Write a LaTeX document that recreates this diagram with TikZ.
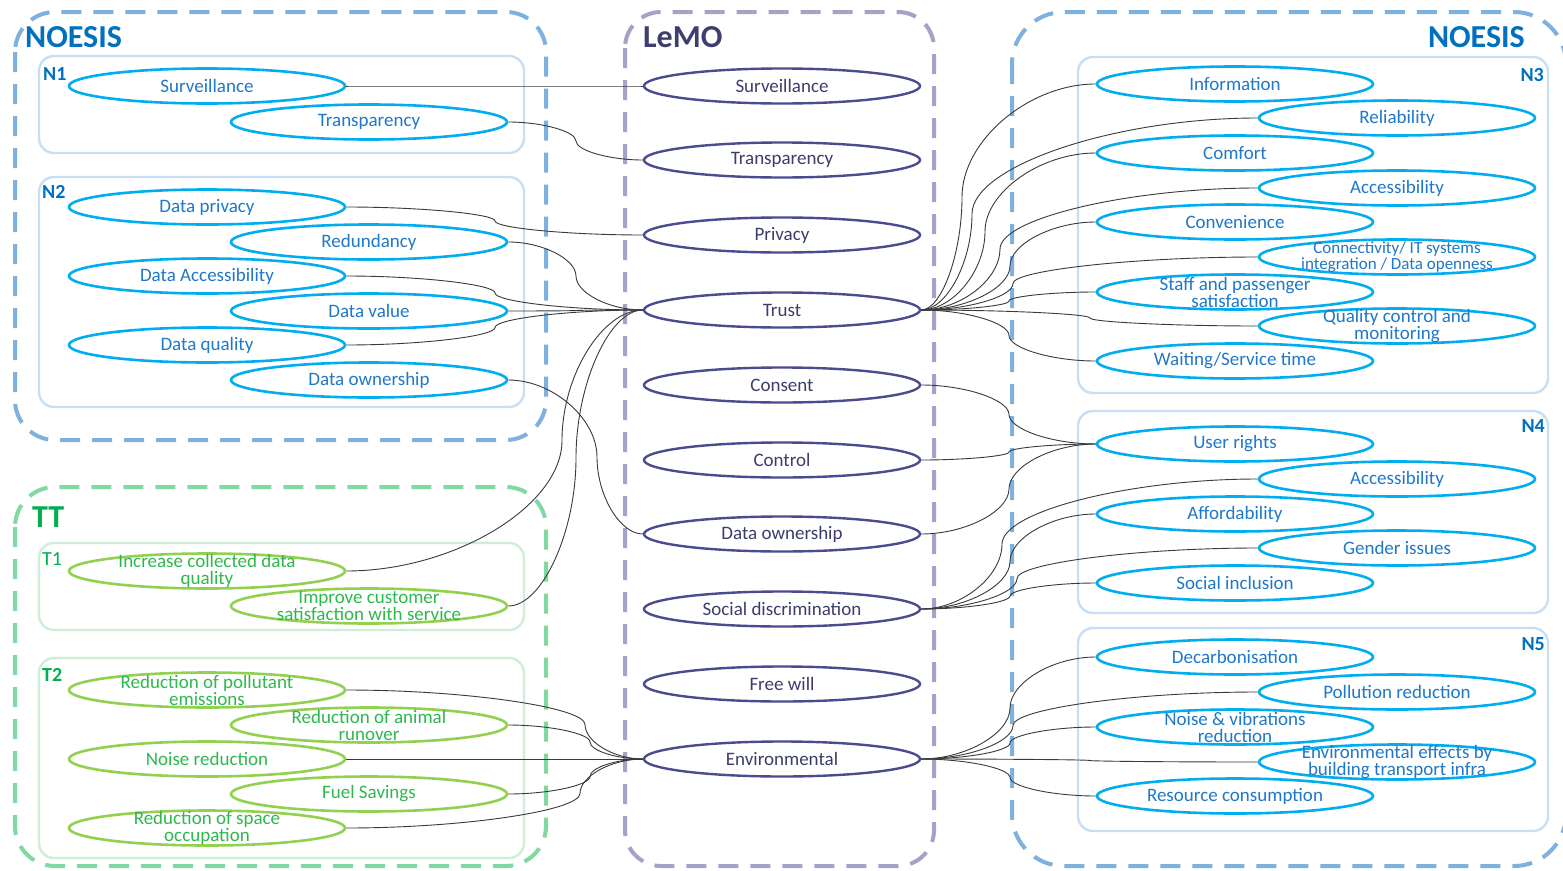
\documentclass[tikz,border=0pt]{standalone}
\usepackage{fontspec}
\setmainfont{Carlito}
\usetikzlibrary{shapes.geometric,calc}
\definecolor{nTitle}{HTML}{0070C0}
\definecolor{nDash}{HTML}{7EB1DD}
\definecolor{nBox}{HTML}{C8DFF3}
\definecolor{nEll}{HTML}{00AEEF}
\definecolor{nText}{HTML}{1F78C8}
\definecolor{mTitle}{HTML}{3F3F6F}
\definecolor{mDash}{HTML}{A3A3C7}
\definecolor{mEll}{HTML}{4B4B90}
\definecolor{mText}{HTML}{3D3D6B}
\definecolor{tTitle}{HTML}{00B050}
\definecolor{tDash}{HTML}{80D9A3}
\definecolor{tBox}{HTML}{CBEFD7}
\definecolor{tEll}{HTML}{92D050}
\definecolor{tText}{HTML}{2EB84E}
\definecolor{connC}{HTML}{3A3A3A}
\newcommand\joinc[3]{\draw[conn] let \p1=(#1), \p2=(#2) in (\p1) .. controls ({0.5*\x1+0.5*#3pt},\y1) and (#3pt,{0.75*\y1+0.25*\y2}) .. (#3pt,{0.5*\y1+0.5*\y2}) .. controls (#3pt,{0.25*\y1+0.75*\y2}) and ({0.5*#3pt+0.5*\x2},\y2) .. (\p2);}
\tikzset{
  ell/.style={ellipse, minimum width=276pt, minimum height=35pt, inner sep=0pt},
  nell/.style={ell, draw=nEll, line width=2.6pt},
  mell/.style={ell, draw=mEll, line width=2.4pt},
  tell/.style={ell, draw=tEll, line width=2.6pt},
  etxt/.style={align=center, inner sep=0pt, font=\fontsize{19}{17}\selectfont},
  ntxt/.style={etxt, text=nText},
  mtxt/.style={etxt, text=mText},
  ttxt/.style={etxt, text=tText},
  conn/.style={draw=connC, line width=0.9pt},
  bigtitle/.style={inner sep=0pt, font=\fontsize{32}{32}\selectfont\bfseries},
  grplabel/.style={inner sep=0pt, font=\fontsize{20}{20}\selectfont\bfseries},
  ndash/.style={draw=nDash, line width=4pt, dash pattern=on 20pt off 12pt},
  mdash/.style={draw=mDash, line width=4pt, dash pattern=on 20pt off 12pt, rounded corners=36pt},
  tdash/.style={draw=tDash, line width=4pt, dash pattern=on 20pt off 12pt, rounded corners=40pt},
  nbox/.style={draw=nBox, line width=2.4pt, rounded corners=15pt},
  tbox/.style={draw=tBox, line width=2.4pt, rounded corners=15pt},
}
\begin{document}
\begin{tikzpicture}[x=1pt,y=-1pt]
\useasboundingbox (0,0) rectangle (1563,870);
\fill[white] (0,0) rectangle (1563,870);
% containers
\draw[ndash, rounded corners=40pt] (15,12) rectangle (546,440);
\draw[tdash] (15,487) rectangle (546,866);
\draw[mdash] (625,12) rectangle (934,866);
\draw[ndash, rounded corners=52pt] (1012,12) rectangle (1566,866);
\draw[nbox] (39,56) rectangle (524,153);
\draw[nbox] (39,177) rectangle (524,407);
\draw[tbox] (39,543) rectangle (524,630);
\draw[tbox] (39,658) rectangle (524,858);
\draw[nbox] (1078,57) rectangle (1548,393);
\draw[nbox] (1078,411) rectangle (1548,613);
\draw[nbox] (1078,628) rectangle (1548,831);
% titles
\node[bigtitle, text=nTitle, anchor=west] (tnl) at (25,37) {NOESIS};
\node[bigtitle, text=mTitle, anchor=west] (tm) at (643,37) {LeMO};
\node[bigtitle, text=tTitle, anchor=west] (tt) at (32,517) {TT};
\node[bigtitle, text=nTitle, anchor=east] (tnr) at (1525,37) {NOESIS};
\node[grplabel, text=nTitle, anchor=west] (gn1) at (43,74) {N1};
\node[grplabel, text=nTitle, anchor=west] (gn2) at (42,192) {N2};
\node[grplabel, text=tTitle, anchor=west, font=\fontsize{20}{20}\selectfont] (gt1) at (42,559) {T1};
\node[grplabel, text=tTitle, anchor=west] (gt2) at (42,675) {T2};
\node[grplabel, text=nTitle, anchor=east] (gn3) at (1544,75) {N3};
\node[grplabel, text=nTitle, anchor=east] (gn4) at (1545,426) {N4};
\node[grplabel, text=nTitle, anchor=east] (gn5) at (1545,644) {N5};
% left NOESIS
\node[nell, label={[ntxt]center:Surveillance}] (ls1) at (207,86) {};
\node[nell, label={[ntxt]center:Transparency}] (ls2) at (369,122) {};
\node[nell, label={[ntxt]center:Data privacy}] (ln1) at (207,207) {};
\node[nell, label={[ntxt]center:Redundancy}] (ln2) at (369,242) {};
\node[nell, label={[ntxt]center:Data Accessibility}] (ln3) at (207,276) {};
\node[nell, label={[ntxt]center:Data value}] (ln4) at (369,311) {};
\node[nell, label={[ntxt]center:Data quality}] (ln5) at (207,345) {};
\node[nell, label={[ntxt]center:Data ownership}] (ln6) at (369,380) {};
% TT
\node[tell, label={[ttxt]center:Increase collected data\\quality}] (lt1) at (207,571) {};
\node[tell, label={[ttxt]center:Improve customer\\satisfaction with service}] (lt2) at (369,606) {};
\node[tell, label={[ttxt]center:Reduction of pollutant\\emissions}] (lt3) at (207,690) {};
\node[tell, label={[ttxt]center:Reduction of animal\\runover}] (lt4) at (369,725) {};
\node[tell, label={[ttxt]center:Noise reduction}] (lt5) at (207,759) {};
\node[tell, label={[ttxt]center:Fuel Savings}] (lt6) at (369,794) {};
\node[tell, label={[ttxt]center:Reduction of space\\occupation}] (lt7) at (207,828) {};
% LeMO
\node[mell, label={[mtxt]center:Surveillance}] (ms1) at (782,86) {};
\node[mell, label={[mtxt]center:Transparency}] (ms2) at (782,160) {};
\node[mell, label={[mtxt]center:Privacy}] (mpriv) at (782,235) {};
\node[mell, label={[mtxt]center:Trust}] (mtrust) at (782,310) {};
\node[mell, label={[mtxt]center:Consent}] (mcons) at (782,385) {};
\node[mell, label={[mtxt]center:Control}] (mctrl) at (782,460) {};
\node[mell, label={[mtxt]center:Data ownership}] (mown) at (782,534) {};
\node[mell, label={[mtxt]center:Social discrimination}] (msoc) at (782,609) {};
\node[mell, label={[mtxt]center:Free will}] (mfree) at (782,684) {};
\node[mell, label={[mtxt]center:Environmental}] (menv) at (782,759) {};
% right N3
\node[nell, label={[ntxt]center:Information}] (rinfo) at (1235,84) {};
\node[nell, label={[ntxt]center:Reliability}] (rrel) at (1397,118) {};
\node[nell, label={[ntxt]center:Comfort}] (rcomf) at (1235,153) {};
\node[nell, label={[ntxt]center:Accessibility}] (racc) at (1397,188) {};
\node[nell, label={[ntxt]center:Convenience}] (rconv) at (1235,222) {};
\node[nell, label={[ntxt, font=\fontsize{17}{16}\selectfont]center:Connectivity/ IT systems\\integration / Data openness}] (rconn) at (1397,257) {};
\node[nell, label={[ntxt]center:Staff and passenger\\satisfaction}] (rstaff) at (1235,292) {};
\node[nell, label={[ntxt]center:Quality control and\\monitoring}] (rqual) at (1397,326) {};
\node[nell, label={[ntxt]center:Waiting/Service time}] (rwait) at (1235,361) {};
% right N4
\node[nell, label={[ntxt]center:User rights}] (rur) at (1235,444) {};
\node[nell, label={[ntxt]center:Accessibility}] (racc2) at (1397,479) {};
\node[nell, label={[ntxt]center:Affordability}] (raff) at (1235,514) {};
\node[nell, label={[ntxt]center:Gender issues}] (rgen) at (1397,548) {};
\node[nell, label={[ntxt]center:Social inclusion}] (rsi) at (1235,583) {};
% right N5
\node[nell, label={[ntxt]center:Decarbonisation}] (rdec) at (1235,657) {};
\node[nell, label={[ntxt]center:Pollution reduction}] (rpol) at (1397,692) {};
\node[nell, label={[ntxt]center:Noise \& vibrations\\reduction}] (rnv) at (1235,727) {};
\node[nell, label={[ntxt]center:Environmental effects by\\building transport infra}] (renv) at (1397,762) {};
\node[nell, label={[ntxt]center:Resource consumption}] (rres) at (1235,796) {};
% connectors left
\joinc{ls1.east}{ms1.west}{495}
\joinc{ls2.east}{ms2.west}{576}
\joinc{ln1.east}{mpriv.west}{495}
\joinc{ln2.east}{mtrust.west}{576}
\joinc{ln3.east}{mtrust.west}{495}
\joinc{ln4.east}{mtrust.west}{576}
\joinc{ln5.east}{mtrust.west}{495}
\joinc{ln6.east}{mown.west}{597}
\joinc{lt1.east}{mtrust.west}{562}
\joinc{lt2.east}{mtrust.west}{576}
\joinc{lt3.east}{menv.west}{585}
\joinc{lt4.east}{menv.west}{590}
\joinc{lt5.east}{menv.west}{495}
\joinc{lt6.east}{menv.west}{590}
\joinc{lt7.east}{menv.west}{580}
% connectors right
\joinc{mtrust.east}{rinfo.west}{962}
\joinc{mtrust.east}{rrel.west}{972}
\joinc{mtrust.east}{rcomf.west}{985}
\joinc{mtrust.east}{racc.west}{1000}
\joinc{mtrust.east}{rconv.west}{1010}
\joinc{mtrust.east}{rconn.west}{1013}
\joinc{mtrust.east}{rstaff.west}{1009}
\joinc{mtrust.east}{rqual.west}{1090}
\joinc{mtrust.east}{rwait.west}{1009}
\joinc{mcons.east}{rur.west}{1009}
\joinc{mctrl.east}{rur.west}{1009}
\joinc{mown.east}{rur.west}{1009}
\joinc{msoc.east}{racc2.west}{1002}
\joinc{msoc.east}{raff.west}{1010}
\joinc{msoc.east}{rgen.west}{1017}
\joinc{msoc.east}{rsi.west}{1010}
\joinc{menv.east}{rdec.west}{1010}
\joinc{menv.east}{rpol.west}{1013}
\joinc{menv.east}{rnv.west}{1010}
\joinc{menv.east}{renv.west}{1090}
\joinc{menv.east}{rres.west}{1010}
\end{tikzpicture}
\end{document}
